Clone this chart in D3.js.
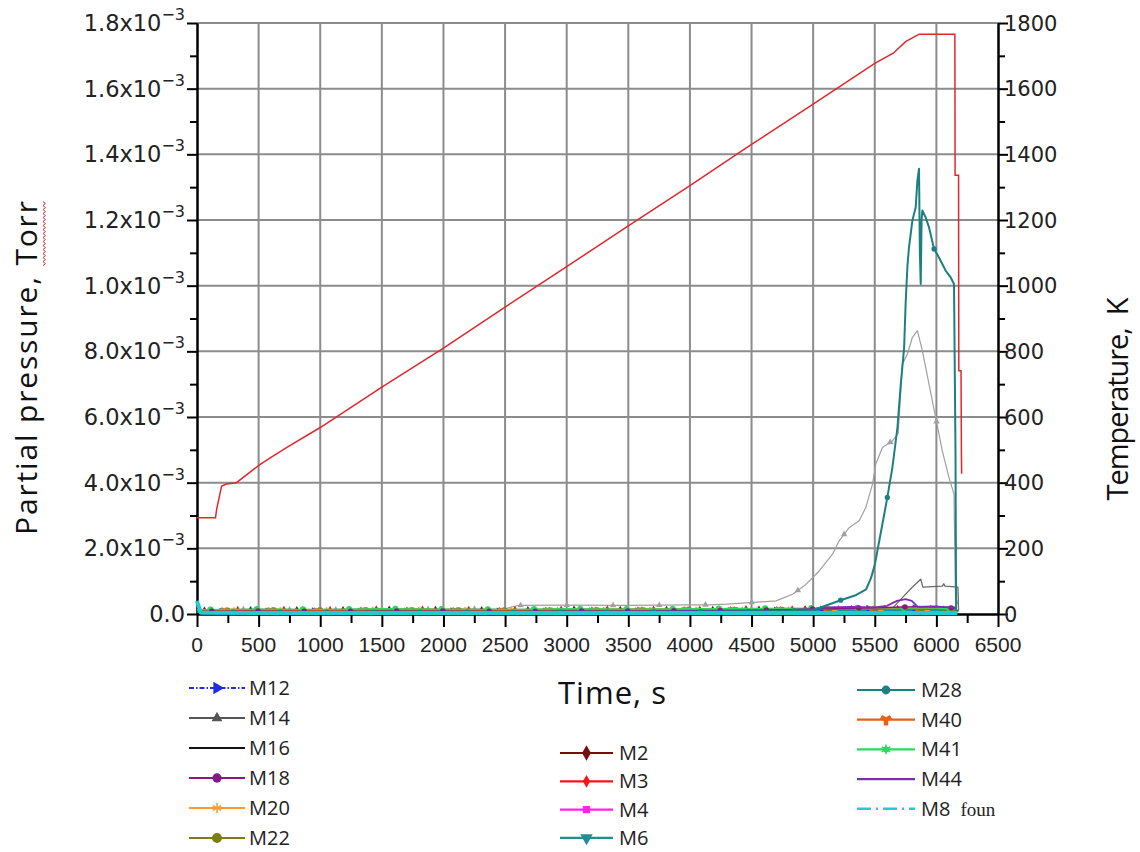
<!DOCTYPE html>
<html><head><meta charset="utf-8">
<script src="https://cdn.jsdelivr.net/npm/d3@7"></script>
<style>body{margin:0;background:#fff} svg{display:block}</style>
</head><body><svg id="c" width="1140" height="852"></svg>
<script>
// ---------------- DATA ----------------
const timeTicks = [0,500,1000,1500,2000,2500,3000,3500,4000,4500,5000,5500,6000,6500];
const timeTickLabels = ["0","500","1000","1500","2000","2500","3000","3500","4000","4500","5000","5500","6000","6500"];
// pressure in units of 10^-3 Torr
const pressureTicks = [0,0.2,0.4,0.6,0.8,1.0,1.2,1.4,1.6,1.8];
const pressureTickLabels = ["0.0","2.0x10^−3","4.0x10^−3","6.0x10^−3","8.0x10^−3","1.0x10^−3","1.2x10^−3","1.4x10^−3","1.6x10^−3","1.8x10^−3"];
const tempTicks = [0,200,400,600,800,1000,1200,1400,1600,1800];
const tempTickLabels = ["0","200","400","600","800","1000","1200","1400","1600","1800"];

// Temperature (K)
const tempTime  = [0,150,160,200,240,320,420,510,600,750,1000,1500,2000,2500,3000,3500,4000,4500,5000,5500,5650,5750,5860,6150,6152,6180,6182,6200,6203,6205];
const tempValue = [293,293,320,390,396,400,429,455,477,512,568,691,810,935,1058,1182,1305,1430,1553,1677,1708,1743,1766,1766,1336,1336,741,741,497,427];

// Major pressure traces
const m28Time  = [0,500,1000,1500,2000,2500,3000,3500,4000,4500,4800,5000,5100,5223,5350,5430,5470,5500,5535,5570,5602,5643,5684,5711,5738,5751,5765,5778,5805,5832,5846,5859,5866,5873,5880,5886,5913,5940,5981,6021,6075,6116,6143,6155,6160,6180];
const m28Value = [0.006,0.005,0.006,0.005,0.006,0.005,0.006,0.006,0.007,0.008,0.009,0.012,0.025,0.042,0.058,0.075,0.110,0.150,0.220,0.290,0.355,0.446,0.568,0.700,0.810,0.950,1.060,1.117,1.198,1.239,1.320,1.356,1.100,1.005,1.200,1.229,1.208,1.178,1.112,1.086,1.046,1.025,1.005,0.500,0.010,0.010];

const m14Time  = [0,500,1000,1500,2000,2500,2600,3000,3500,4000,4160,4300,4455,4698,4833,4941,5049,5157,5211,5292,5373,5427,5481,5508,5562,5643,5690,5724,5765,5805,5846,5886,5940,5994,6048,6102,6143,6155,6175];
const m14Value = [0.012,0.014,0.012,0.015,0.014,0.016,0.026,0.027,0.026,0.028,0.028,0.030,0.034,0.040,0.060,0.090,0.131,0.182,0.223,0.263,0.284,0.324,0.395,0.456,0.507,0.527,0.550,0.761,0.792,0.842,0.863,0.802,0.700,0.599,0.497,0.416,0.365,0.050,0.030];

const m16Time  = [0,1000,2000,3000,4000,5000,5650,5724,5800,5873,5890,6048,6060,6070,6175,6180];
const m16Value = [0.005,0.005,0.005,0.006,0.006,0.007,0.020,0.050,0.080,0.106,0.082,0.085,0.092,0.085,0.082,0.010];

const m44Time  = [0,1000,2000,3000,4000,4500,5000,5100,5300,5500,5600,5680,5750,5800,5850,6000,6150,6170];
const m44Value = [0.006,0.006,0.006,0.007,0.007,0.008,0.015,0.020,0.022,0.020,0.025,0.040,0.045,0.040,0.022,0.022,0.020,0.005];

const m8Time  = [0,30,500,1000,1500,2000,2500,3000,3500,4000,4500,5000,5500,6000,6170];
const m8Value = [0.040,0.004,0.003,0.003,0.003,0.003,0.003,0.003,0.003,0.003,0.003,0.003,0.003,0.003,0.003];

// Minor traces near the baseline (sampled every 500 s)
const baseTime = [0,500,1000,1500,2000,2500,3000,3500,4000,4500,5000,5500,6000,6150];
const m2Value  = [0.009,0.011,0.010,0.012,0.011,0.010,0.012,0.011,0.011,0.012,0.013,0.014,0.013,0.011];
const m3Value  = [0.012,0.014,0.013,0.015,0.014,0.013,0.014,0.015,0.014,0.016,0.015,0.016,0.017,0.014];
const m4Value  = [0.005,0.006,0.005,0.006,0.005,0.006,0.005,0.006,0.006,0.007,0.007,0.008,0.008,0.006];
const m6Value  = [0.007,0.008,0.007,0.008,0.008,0.007,0.008,0.008,0.009,0.009,0.010,0.011,0.011,0.009];
const m12Value = [0.008,0.008,0.009,0.008,0.009,0.008,0.009,0.009,0.010,0.010,0.014,0.017,0.019,0.014];
const m18Value = [0.008,0.009,0.008,0.009,0.009,0.008,0.009,0.009,0.010,0.011,0.015,0.019,0.024,0.017];
const m20Value = [0.011,0.012,0.011,0.013,0.012,0.012,0.013,0.012,0.013,0.013,0.014,0.015,0.015,0.013];
const m22Value = [0.010,0.011,0.012,0.011,0.012,0.011,0.011,0.012,0.012,0.013,0.014,0.015,0.014,0.012];
const m40Value = [0.012,0.013,0.012,0.014,0.013,0.013,0.014,0.014,0.015,0.015,0.016,0.017,0.017,0.014];
const m41Value = [0.013,0.015,0.014,0.016,0.015,0.014,0.016,0.015,0.016,0.017,0.018,0.019,0.018,0.015];

const legendCol1 = ["M12","M14","M16","M18","M20","M22"];
const legendCol2 = ["M2","M3","M4","M6"];
const legendCol3 = ["M28","M40","M41","M44","M8"];

// ---------------- STYLES ----------------
const S = {
  M12:{t:baseTime,v:m12Value,color:"#1f2fe0",w:1.3,dash:"5,2,1.5,2",sym:"triR",size:40,mStep:375,mOff:200},
  M14:{t:m14Time,v:m14Value,color:"#a0a0a0",lcolor:"#555",w:1.2,sym:"tri",size:30,mStep:375,mOff:376},
  M16:{t:m16Time,v:m16Value,color:"#6a6a6a",lcolor:"#111",w:1.3,sym:null},
  M18:{t:baseTime,v:m18Value,color:"#86198a",w:1.3,sym:"circle",size:40,mStep:375,mOff:120},
  M20:{t:baseTime,v:m20Value,color:"#ff9a30",w:1.3,sym:"aster",size:40,mStep:375,mOff:300},
  M22:{t:baseTime,v:m22Value,color:"#7d7d10",w:1.3,sym:"circle",size:45,mStep:375,mOff:250},
  M2: {t:baseTime,v:m2Value,color:"#7a0c0c",w:1.3,sym:"diamond",size:40,mStep:375,mOff:60},
  M3: {t:baseTime,v:m3Value,color:"#f01818",w:1.3,sym:"diamond",size:28,mStep:375,mOff:330},
  M4: {t:baseTime,v:m4Value,color:"#ff22ee",w:1.3,sym:"square",size:30,mStep:375,mOff:160},
  M6: {t:baseTime,v:m6Value,color:"#1f8f8f",w:1.3,sym:"triD",size:40,mStep:375,mOff:280},
  M28:{t:m28Time,v:m28Value,color:"#1d8080",w:2,sym:"circle",size:36,mStep:379,mOff:296},
  M40:{t:baseTime,v:m40Value,color:"#e8601c",w:1.3,sym:"wye",size:40,mStep:375,mOff:220},
  M41:{t:baseTime,v:m41Value,color:"#2ed85a",w:1.3,sym:"asterDot",size:40,mStep:375,mOff:110},
  M44:{t:m44Time,v:m44Value,color:"#7b2fb0",w:1.8,sym:null},
  M8: {t:m8Time,v:m8Value,color:"#22cccc",w:4,dash:null,ldash:"14,5,2,5",sym:null}
};
const drawOrder = ["M14","M16","M2","M3","M4","M6","M12","M20","M22","M40","M41","M18","M44","M28","M8"];

// ---------------- CHART ----------------
const svg = d3.select("#c");
const x = d3.scaleLinear().domain([0,6500]).range([197,998]);
const y = d3.scaleLinear().domain([0,1.8]).range([614,23]);
const yT = d3.scaleLinear().domain([0,1800]).range([614,23]);

const tickFont = "'DejaVu Sans', Verdana, sans-serif";
const titleFont = "'Open Sans', 'Segoe UI', sans-serif";

// grid
const grid = svg.append("g");
grid.selectAll("line.v").data(timeTicks.slice(1,-1)).join("line")
  .attr("x1",d=>x(d)).attr("x2",d=>x(d)).attr("y1",y(0)).attr("y2",y(1.8))
  .attr("stroke","#8c8c8c").attr("stroke-width",2);
grid.selectAll("line.h").data(pressureTicks.slice(1)).join("line")
  .attr("x1",x(0)).attr("x2",x(6500)).attr("y1",d=>y(d)).attr("y2",d=>y(d))
  .attr("stroke","#8c8c8c").attr("stroke-width",2);

// axes
function styleAxis(g){ g.select(".domain").attr("stroke","#000").attr("stroke-width",2);
  g.selectAll(".tick line").attr("stroke","#000").attr("stroke-width",2); g.selectAll("text").remove(); }
const minorP = d3.range(0.1,1.8,0.2);
const minorX = d3.range(250,6500,500);
const minorT = d3.range(100,1800,200);
svg.append("g").attr("transform",`translate(${x(0)},0)`).call(d3.axisLeft(y).tickValues(minorP).tickSize(7).tickSizeOuter(0)).call(styleAxis);
svg.append("g").attr("transform",`translate(${x(0)},0)`).call(d3.axisLeft(y).tickValues(pressureTicks).tickSize(10).tickSizeOuter(0)).call(styleAxis);
svg.append("g").attr("transform",`translate(${x(6500)},0)`).call(d3.axisRight(yT).tickValues(minorT).tickSize(7).tickSizeOuter(0)).call(styleAxis);
svg.append("g").attr("transform",`translate(${x(6500)},0)`).call(d3.axisRight(yT).tickValues(tempTicks).tickSize(10).tickSizeOuter(0)).call(styleAxis);
svg.append("g").attr("transform",`translate(0,${y(0)})`).call(d3.axisBottom(x).tickValues(minorX).tickSize(9).tickSizeOuter(0)).call(styleAxis);
svg.append("g").attr("transform",`translate(0,${y(0)})`).call(d3.axisBottom(x).tickValues(timeTicks).tickSize(13).tickSizeOuter(0)).call(styleAxis);

// tick labels
const lt = svg.append("g").attr("font-family",tickFont).attr("font-size",22.5).attr("fill","#222");
pressureTicks.forEach((d,i)=>{
  const parts = pressureTickLabels[i].split("^");
  const t = lt.append("text").attr("x",185).attr("y",y(d)).attr("dy","0.36em").attr("text-anchor","end");
  t.append("tspan").text(parts[0]);
  if(parts[1]) t.append("tspan").attr("font-size",16).attr("dy","-0.7em").text(parts[1]);
});
const rt = svg.append("g").attr("font-family",tickFont).attr("font-size",21).attr("fill","#222");
tempTicks.forEach((d,i)=>{
  rt.append("text").attr("x",x(6500)+6).attr("y",yT(d)).attr("dy","0.36em").text(tempTickLabels[i]);
});
const bt = svg.append("g").attr("font-family","'Liberation Sans Narrow','Arial Narrow',sans-serif").attr("font-size",21).attr("fill","#222");
timeTicks.forEach((d,i)=>{
  bt.append("text").attr("x",x(d)).attr("y",652).attr("text-anchor","middle").text(timeTickLabels[i]);
});

// axis titles
const yt = svg.append("g").attr("transform","translate(37,368) rotate(-90)");
const ytText = yt.append("text").attr("text-anchor","middle").attr("font-family",titleFont).attr("font-size",30)
  .attr("fill","#111").attr("textLength",334).attr("lengthAdjust","spacing");
ytText.append("tspan").text("Partial pressure, ");
ytText.append("tspan").text("Torr");
{
  // spell-check squiggle under "Torr"
  const node = ytText.node();
  const n0 = node.textContent.length;
  const start = node.getStartPositionOfChar(n0-4).x;
  const end = node.getEndPositionOfChar(n0-1).x;
  const n = Math.floor((end-start)/2);
  const pts = d3.range(n+1).map(i=>[start+i*2, 6+(i%2?2.5:0)]);
  yt.append("path").attr("d", d3.line()(pts)).attr("fill","none").attr("stroke","#e03030").attr("stroke-width",1);
}
svg.append("text").attr("transform","translate(1128,399) rotate(-90)").attr("text-anchor","middle")
  .attr("font-family",titleFont).attr("font-size",29).attr("fill","#111").attr("xml:space","preserve")
  .attr("textLength",203).attr("lengthAdjust","spacing").text("Temperature,  K");
svg.append("text").attr("x",612).attr("y",704).attr("text-anchor","middle")
  .attr("font-family",titleFont).attr("font-size",31).attr("fill","#111")
  .attr("textLength",108).attr("lengthAdjust","spacing").text("Time, s");

// symbols
function symPath(kind,size){
  switch(kind){
    case "tri": case "triR": case "triD": return d3.symbol().type(d3.symbolTriangle).size(size)();
    case "circle": return d3.symbol().type(d3.symbolCircle).size(size)();
    case "diamond": return d3.symbol().type(d3.symbolDiamond).size(size)();
    case "square": return d3.symbol().type(d3.symbolSquare).size(size)();
    case "aster": case "asterDot": return d3.symbol().type(d3.symbolAsterisk).size(size)();
    case "wye": return d3.symbol().type(d3.symbolWye).size(size)();
  }
}
const symRot = {triR:90, triD:180};
const strokeSym = {aster:true, asterDot:true};
function drawSym(g,kind,size,color,cx,cy){
  if(!kind) return;
  const p = g.append("path").attr("d",symPath(kind,size))
    .attr("transform",`translate(${cx},${cy}) rotate(${symRot[kind]||0})`);
  if(strokeSym[kind]) p.attr("fill","none").attr("stroke",color).attr("stroke-width",1.5);
  else p.attr("fill",color);
  if(kind==="asterDot") g.append("circle").attr("cx",cx).attr("cy",cy).attr("r",3).attr("fill",color);
}
function interp(ts,vs,t){
  const i = d3.bisectRight(ts,t);
  if(i<=0) return vs[0]; if(i>=ts.length) return vs[vs.length-1];
  const f = (t-ts[i-1])/(ts[i]-ts[i-1]); return vs[i-1]+f*(vs[i]-vs[i-1]);
}

const lineGen = d3.line().x(d=>x(d[0])).y(d=>y(d[1]));
const plot = svg.append("g");
drawOrder.forEach(k=>{
  const s = S[k];
  const pts = s.t.map((t,i)=>[t,s.v[i]]);
  plot.append("path").attr("d",lineGen(pts)).attr("fill","none").attr("stroke",s.color)
    .attr("stroke-width",s.w).attr("stroke-linejoin","round").attr("stroke-dasharray",s.dash||null);
  if(s.sym && s.mStep){
    const last = s.t[s.t.length-1];
    for(let t=s.mOff;t<=last;t+=s.mStep){
      drawSym(plot,s.sym,s.size*0.6,s.color,x(t),y(interp(s.t,s.v,t)));
    }
  }
});
// temperature curve
plot.append("path").attr("d",d3.line().x((d,i)=>x(tempTime[i])).y(d=>yT(d))(tempValue))
  .attr("fill","none").attr("stroke","#e3262b").attr("stroke-width",1.5);

// legend
const lg = svg.append("g").attr("font-family",titleFont).attr("font-size",20).attr("fill","#222");
function legendCol(names,x1,x2,tx,y0,dy){
  names.forEach((n,i)=>{
    const s = S[n], yy = y0+i*dy;
    const c = s.lcolor||s.color;
    lg.append("line").attr("x1",x1).attr("x2",x2).attr("y1",yy).attr("y2",yy).attr("stroke",c)
      .attr("stroke-width",n==="M8"?2.5:2.2).attr("stroke-dasharray",s.ldash||s.dash||null);
    drawSym(lg,s.sym,s.size*1.7,c,(x1+x2)/2,yy);
    const t = lg.append("text").attr("x",tx).attr("y",yy).attr("dy","0.35em");
    if(n==="M8"){ t.append("tspan").text("M8"); t.append("tspan").attr("dx",10).attr("font-family","'Liberation Serif','Times New Roman',serif").attr("font-size",19).text("foun"); }
    else t.text(n);
  });
}
legendCol(legendCol1,189,245,249,688,30);
legendCol(legendCol2,560,613,619,753,28.3);
legendCol(legendCol3,857,915,921,690,29.7);
</script></body></html>
